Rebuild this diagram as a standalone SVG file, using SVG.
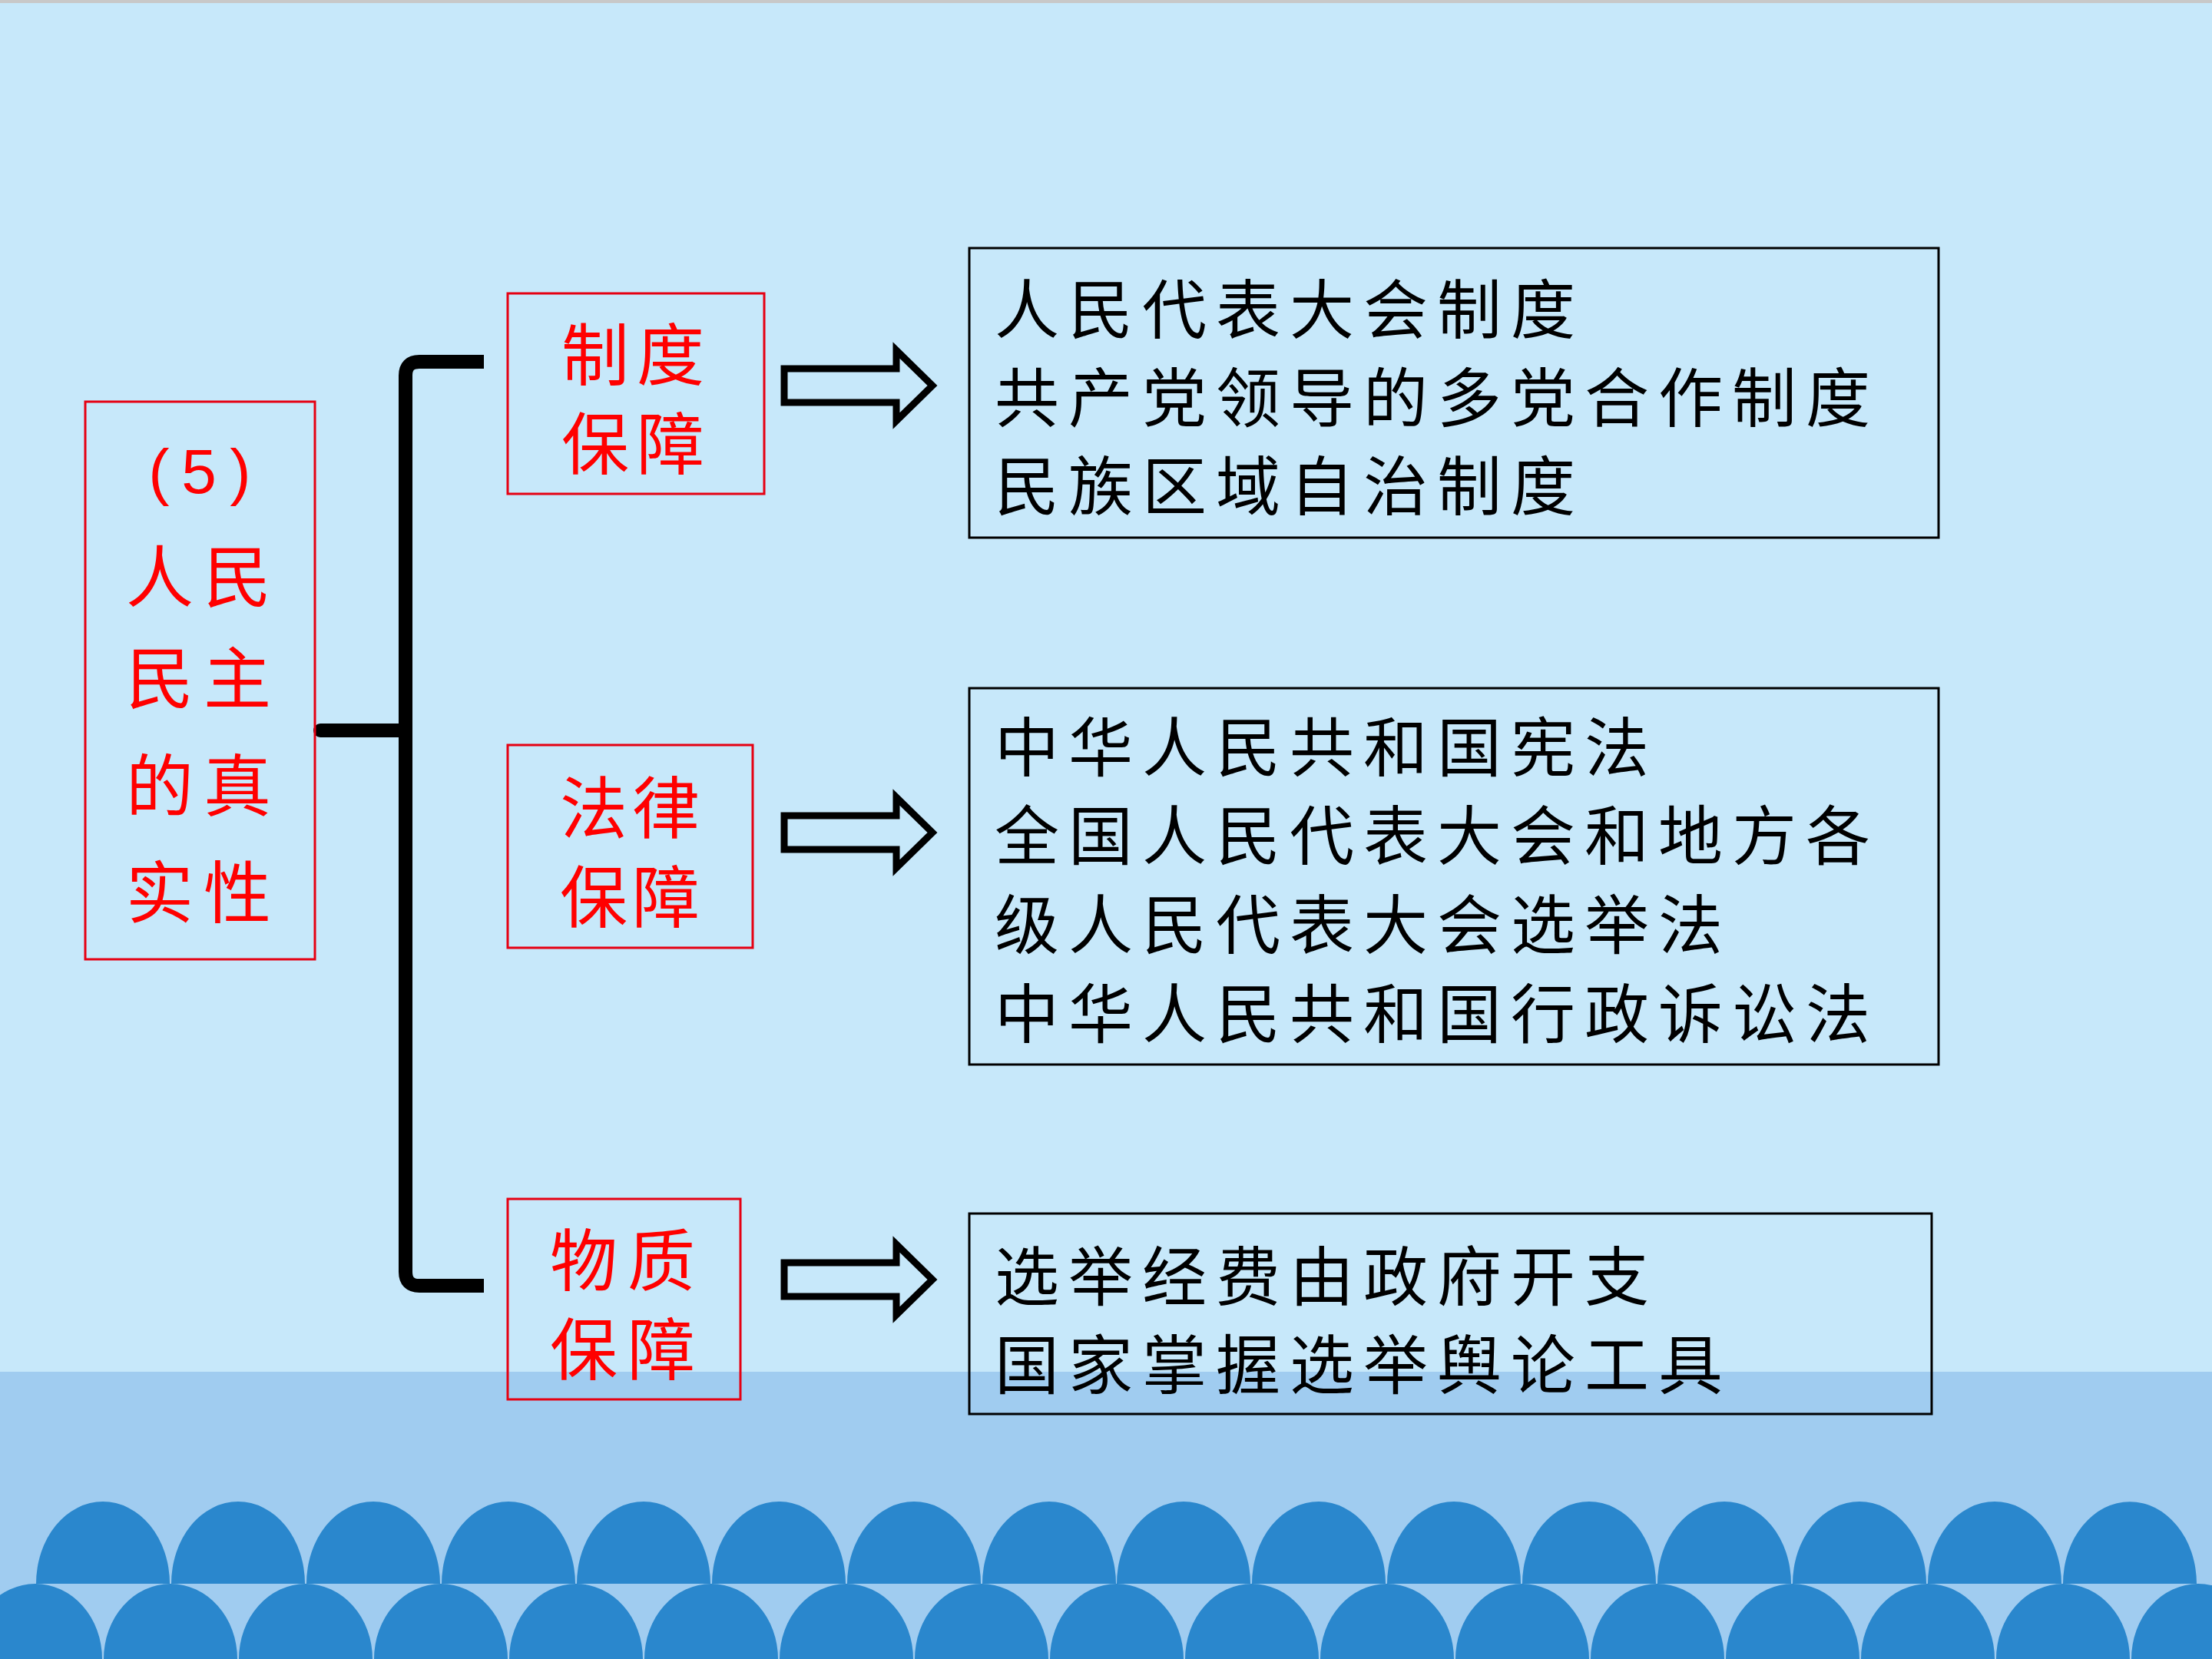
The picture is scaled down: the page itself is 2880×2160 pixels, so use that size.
<svg xmlns="http://www.w3.org/2000/svg" width="2880" height="2160" viewBox="0 0 2880 2160">
<style>
.red{fill:none;stroke:#E60012;stroke-width:3}
.blk{fill:none;stroke:#000;stroke-width:3}
.rt{font-family:"Noto Sans CJK SC","Noto Sans CJK TC",sans-serif;font-size:88px;fill:#FF0000;text-anchor:middle}
.bt{font-family:"Noto Sans CJK SC","Noto Sans CJK TC",sans-serif;font-size:84px;fill:#000;letter-spacing:12px}
.arr{fill:none;stroke:#000;stroke-width:9;stroke-linejoin:miter;stroke-miterlimit:10}
.br{fill:none;stroke:#000;stroke-width:18}
.wave{fill:#2A87CD}
</style>
<defs>
<path id="arrow" d="M0,-22 H146 V-46 L193,0 L146,46 V22 H0 Z"/>
</defs>
<g id="background">
<rect x="0" y="0" width="2880" height="2160" fill="#C7E8FA"/>
<rect x="0" y="0" width="2880" height="4" fill="#C8C8C8"/>
<rect x="0" y="1786" width="2880" height="374" fill="#A0CCF0"/>
<path class="wave" d="M47,2062 A87,107 0 0 1 221,2062 Z M223,2062 A87,107 0 0 1 397,2062 Z M399,2062 A87,107 0 0 1 573,2062 Z M575,2062 A87,107 0 0 1 749,2062 Z M751,2062 A87,107 0 0 1 925,2062 Z M927,2062 A87,107 0 0 1 1101,2062 Z M1103,2062 A87,107 0 0 1 1277,2062 Z M1279,2062 A87,107 0 0 1 1453,2062 Z M1454,2062 A87,107 0 0 1 1628,2062 Z M1630,2062 A87,107 0 0 1 1804,2062 Z M1806,2062 A87,107 0 0 1 1980,2062 Z M1982,2062 A87,107 0 0 1 2156,2062 Z M2158,2062 A87,107 0 0 1 2332,2062 Z M2334,2062 A87,107 0 0 1 2508,2062 Z M2510,2062 A87,107 0 0 1 2684,2062 Z M2686,2062 A87,107 0 0 1 2860,2062 Z"/>
<path class="wave" d="M-41,2160 A87,98 0 0 1 133,2160 Z M135,2160 A87,98 0 0 1 309,2160 Z M311,2160 A87,98 0 0 1 485,2160 Z M487,2160 A87,98 0 0 1 661,2160 Z M663,2160 A87,98 0 0 1 837,2160 Z M839,2160 A87,98 0 0 1 1013,2160 Z M1015,2160 A87,98 0 0 1 1189,2160 Z M1191,2160 A87,98 0 0 1 1365,2160 Z M1367,2160 A87,98 0 0 1 1541,2160 Z M1543,2160 A87,98 0 0 1 1717,2160 Z M1719,2160 A87,98 0 0 1 1893,2160 Z M1895,2160 A87,98 0 0 1 2069,2160 Z M2071,2160 A87,98 0 0 1 2245,2160 Z M2247,2160 A87,98 0 0 1 2421,2160 Z M2423,2160 A87,98 0 0 1 2597,2160 Z M2599,2160 A87,98 0 0 1 2773,2160 Z M2775,2160 A87,98 0 0 1 2949,2160 Z"/>
</g>
<g id="connectors">
<path class="br" d="M630,471 H546 Q528,471 528,489 V1656 Q528,1674 546,1674 H630"/>
<path class="br" d="M417,951 H528" stroke-linecap="round"/>
<use href="#arrow" x="1021" y="502" class="arr"/>
<use href="#arrow" x="1021" y="1084" class="arr"/>
<use href="#arrow" x="1021" y="1666" class="arr"/>
</g>
<g id="node-main">
<rect class="red" x="111" y="523" width="299" height="726"/>
<text class="rt" x="207 259 313" y="642" style="font-family:'Liberation Sans',sans-serif;font-size:82px">(5)</text>
<text class="rt" x="208 309" y="783">人民</text>
<text class="rt" x="208 309" y="915">民主</text>
<text class="rt" x="208 309" y="1055">的真</text>
<text class="rt" x="208 309" y="1194">实性</text>
</g>
<g id="node-zhidu">
<rect class="red" x="661" y="382" width="334" height="261"/>
<text class="rt" x="775 873" y="494">制度</text>
<text class="rt" x="775 873" y="610">保障</text>
</g>
<g id="node-falv">
<rect class="red" x="661" y="970" width="319" height="264"/>
<text class="rt" x="773 867" y="1084">法律</text>
<text class="rt" x="773 867" y="1200">保障</text>
</g>
<g id="node-wuzhi">
<rect class="red" x="661" y="1561" width="303" height="261"/>
<text class="rt" x="760 861" y="1673">物质</text>
<text class="rt" x="760 861" y="1789">保障</text>
</g>
<g id="node-zhidu-detail">
<rect class="blk" x="1262" y="323" width="1262" height="377"/>
<text class="bt" x="1295" y="434">人民代表大会制度</text>
<text class="bt" x="1295" y="549">共产党领导的多党合作制度</text>
<text class="bt" x="1295" y="664">民族区域自治制度</text>
</g>
<g id="node-falv-detail">
<rect class="blk" x="1262" y="896" width="1262" height="490"/>
<text class="bt" x="1295" y="1004">中华人民共和国宪法</text>
<text class="bt" x="1295" y="1119">全国人民代表大会和地方各</text>
<text class="bt" x="1295" y="1235">级人民代表大会选举法</text>
<text class="bt" x="1295" y="1351">中华人民共和国行政诉讼法</text>
</g>
<g id="node-wuzhi-detail">
<rect class="blk" x="1262" y="1580" width="1253" height="261"/>
<text class="bt" x="1295" y="1693">选举经费由政府开支</text>
<text class="bt" x="1295" y="1808">国家掌握选举舆论工具</text>
</g>
</svg>
